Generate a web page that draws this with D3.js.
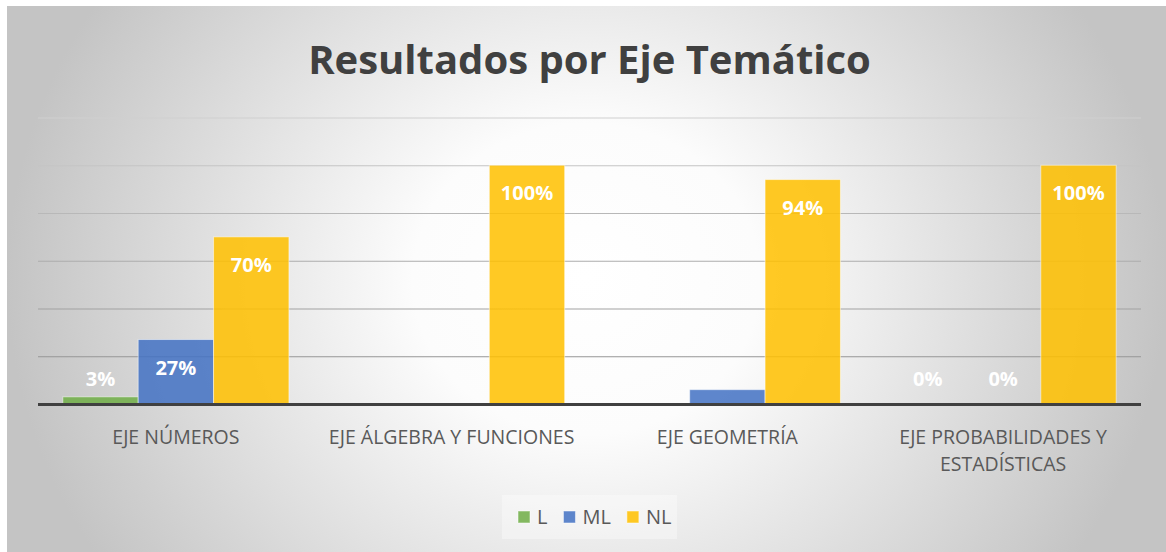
<!DOCTYPE html>
<html>
<head>
<meta charset="utf-8">
<script src="https://cdn.jsdelivr.net/npm/d3@7"></script>
<style>
  html, body { margin: 0; padding: 0; background: #fff; }
  svg { display: block; font-family: "Open Sans", sans-serif; }
</style>
</head>
<body>
<div id="graphic"></div>
<script>
var categories = ["EJE NÚMEROS", "EJE ÁLGEBRA Y FUNCIONES", "EJE GEOMETRÍA", "EJE PROBABILIDADES Y\nESTADÍSTICAS"];
var seriesNames = ["L", "ML", "NL"];
var valuesL = [3, 0, 0, 0];
var valuesML = [27, 0, 6, 0];
var valuesNL = [70, 100, 94, 100];
// which data labels are visible in the original
var showL = [true, false, false, true];
var showML = [true, false, false, true];
var showNL = [true, true, true, true];
var yTicks = [0, 20, 40, 60, 80, 100, 120];

var colors = { L: "#70ad47", ML: "#4472c4", NL: "#ffc000" };
var series = [
  { name: "L", values: valuesL, show: showL },
  { name: "ML", values: valuesML, show: showML },
  { name: "NL", values: valuesNL, show: showNL }
];

var W = 1166, H = 552;
var plot = { left: 38, right: 1141, top: 117.5, bottom: 404 };

var svg = d3.select("#graphic").append("svg").attr("width", W).attr("height", H);
var defs = svg.append("defs");

var bg = defs.append("radialGradient").attr("id", "bg")
  .attr("cx", 0.5).attr("cy", 0.5).attr("r", 0.5)
  .attr("gradientTransform", "translate(0.5,0.5) scale(1,1.9) translate(-0.5,-0.5)");
bg.append("stop").attr("offset", 0).attr("stop-color", "#ffffff");
bg.append("stop").attr("offset", 0.3).attr("stop-color", "#fcfcfc");
bg.append("stop").attr("offset", 1).attr("stop-color", "#c4c4c4");

svg.append("rect").attr("x", 7).attr("y", 6).attr("width", W - 7).attr("height", H - 6)
  .attr("fill", "url(#bg)");

var x0 = d3.scaleBand().domain(categories).range([plot.left, plot.right]).paddingInner(0.18).paddingOuter(0.09);
var x1 = d3.scaleBand().domain(seriesNames).range([0, x0.bandwidth()]);
var y = d3.scaleLinear().domain([0, 120]).range([plot.bottom, plot.top]);

// gridlines
var grid = d3.axisLeft(y).tickValues(yTicks.slice(1)).tickSize(-(plot.right - plot.left)).tickFormat("");
svg.append("g").attr("transform", "translate(" + plot.left + ",0)").call(grid)
  .call(function(g) { g.select(".domain").remove(); })
  .selectAll(".tick line").attr("stroke-width", 1.2)
  .attr("stroke", function(d) { return d3.interpolateRgb("#8a8a8a", "#cfcfcf")(d / 120); });

// bars
var groups = svg.append("g").selectAll("g").data(series).enter().append("g");
groups.selectAll("rect").data(function(s) {
  return s.values.map(function(v, i) { return { name: s.name, cat: categories[i], v: v }; });
}).enter().append("rect")
  .attr("x", function(d) { return x0(d.cat) + x1(d.name); })
  .attr("width", x1.bandwidth())
  .attr("y", function(d) { return y(d.v); })
  .attr("height", function(d) { return y(0) - y(d.v); })
  .attr("fill", function(d) { return colors[d.name]; })
  .attr("fill-opacity", 0.86)
  .attr("stroke", "#ffffff").attr("stroke-opacity", function(d) { return d.v > 0 ? 0.5 : 0; })
  .attr("stroke-width", 1);

// baseline
svg.append("line").attr("x1", plot.left).attr("x2", plot.right)
  .attr("y1", y(0) + 0.5).attr("y2", y(0) + 0.5)
  .attr("stroke", "#404040").attr("stroke-width", 3);

// data labels
groups.selectAll("text").data(function(s) {
  return s.values.map(function(v, i) { return { name: s.name, cat: categories[i], v: v, show: s.show[i] }; })
    .filter(function(d) { return d.show; });
}).enter().append("text")
  .attr("x", function(d) { return x0(d.cat) + x1(d.name) + x1.bandwidth() / 2; })
  .attr("y", function(d) { return Math.min(y(d.v) + 35, y(0) - 18); })
  .attr("text-anchor", "middle")
  .attr("font-size", 20).attr("font-weight", 700)
  .attr("fill", "#ffffff")
  .text(function(d) { return d.v + "%"; });

// category labels
var catLabels = svg.append("g").selectAll("text").data(categories).enter().append("text")
  .attr("text-anchor", "middle")
  .attr("font-size", 19.5).attr("fill", "#595959");
catLabels.selectAll("tspan").data(function(c) {
  return c.split("\n").map(function(line, i) { return { c: c, line: line, i: i }; });
}).enter().append("tspan")
  .attr("x", function(d) { return x0(d.c) + x0.bandwidth() / 2; })
  .attr("y", function(d) { return 444 + d.i * 27; })
  .text(function(d) { return d.line; });

// title
svg.append("text").attr("x", (plot.left + plot.right) / 2).attr("y", 74)
  .attr("text-anchor", "middle").attr("font-size", 40).attr("font-weight", 700)
  .attr("fill", "#404040").text("Resultados por Eje Temático");

// legend
svg.append("rect").attr("x", 502).attr("y", 495).attr("width", 175).attr("height", 44)
  .attr("fill", "#ffffff").attr("fill-opacity", 0.35);
var legend = svg.append("g");
var lx = 518;
series.forEach(function(s) {
  var item = legend.append("g").attr("transform", "translate(" + lx + ",511)");
  item.append("rect").attr("width", 12).attr("height", 12)
    .attr("fill", colors[s.name]).attr("fill-opacity", 0.86)
    .attr("stroke", "#ffffff").attr("stroke-opacity", 0.5);
  var t = item.append("text").attr("x", 19).attr("y", 13)
    .attr("font-size", 20).attr("fill", "#595959").text(s.name);
  lx += 19 + t.node().getComputedTextLength() + 16;
});
</script>
</body>
</html>
